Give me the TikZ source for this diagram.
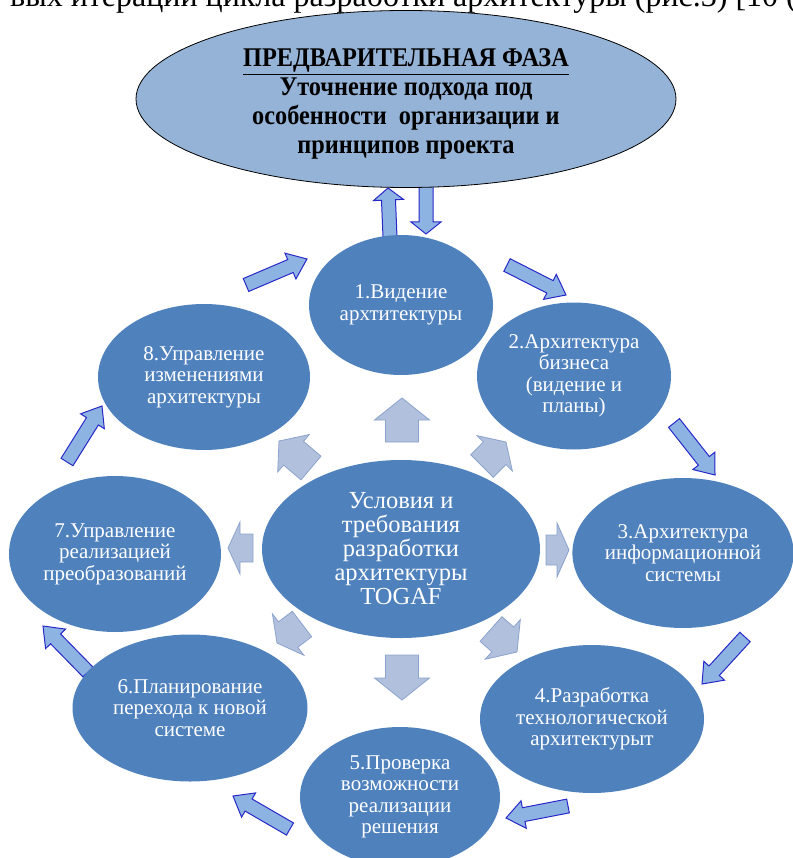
\documentclass[tikz,border=0pt]{standalone}
\usepackage{fontspec}
\setmainfont{Liberation Serif}
\newfontfamily\headfont[FakeStretch=0.9]{Liberation Serif}
\usepackage{tikz}
\usetikzlibrary{shapes.geometric}
\usetikzlibrary{calc}
\pgfdeclarelayer{background}
\pgfsetlayers{background,main}

\definecolor{phasefill}{RGB}{149,179,215}
\definecolor{stepfill}{RGB}{79,129,189}
\definecolor{cyclefill}{RGB}{141,179,226}
\definecolor{cycleline}{RGB}{40,40,200}
\definecolor{innerfill}{RGB}{177,192,220}
\definecolor{innerline}{RGB}{140,163,205}

% block arrow: [style]{tail}{tip}{half shaft}{half head}{head length}
\newcommand{\blockarrow}[6][]{%
	\coordinate (ba-t) at #2;
	\coordinate (ba-p) at #3;
	\coordinate (ba-b) at ($(ba-p)!#6!(ba-t)$);
	\path[#1] ($(ba-t)!#4!90:(ba-p)$) -- ($(ba-b)!#4!-90:(ba-t)$) -- ($(ba-b)!#5!-90:(ba-t)$)
		-- (ba-p) -- ($(ba-b)!#5!90:(ba-t)$) -- ($(ba-b)!#4!90:(ba-t)$) -- ($(ba-t)!#4!-90:(ba-p)$) -- cycle;}

\begin{document}
\begin{tikzpicture}[x=1pt, y=-1pt,
				phasenode/.style={ellipse, draw=black, line width=0.8pt, fill=phasefill, inner sep=0pt, align=center,
					font=\headfont\bfseries\fontsize{27}{29}\selectfont},
				stepnode/.style={ellipse, fill=stepfill, text=white, inner sep=0pt, align=center,
					font=\fontsize{21}{21.5}\selectfont},
				corenode/.style={stepnode, font=\fontsize{24.5}{24}\selectfont},
				outerarrow/.style={fill=cyclefill, draw=cycleline, line width=1pt},
				innerarrow/.style={fill=innerfill, draw=innerline, line width=0.8pt},
				]
				\useasboundingbox (0,0) rectangle (792,858);
				\begin{scope}
				\clip (0,0) rectangle (792,858);
				\node[anchor=base west, font=\fontsize{32}{34}\selectfont, inner sep=0pt] (cut) at (10,7)
					{вых итерации цикла разработки архитектуры (рис.3) [10 (};
				\end{scope}

				%Nodes
				\node[phasenode, minimum width=540, minimum height=177] (phase) at (406,99) {};
				\node[phasenode, draw=none, fill=none] (phasetext) at (406,104)
					{\underline{ПРЕДВАРИТЕЛЬНАЯ ФАЗА}\\Уточнение подхода под\\особенности~ организации и\\принципов проекта};
				\node[stepnode, minimum width=184, minimum height=140] (s1) at (401,305) {1.Видение\\архтитектуры};
				\node[stepnode, minimum width=194, minimum height=147] (s2) at (574,376) {2.Архитектура\\бизнеса\\(видение и\\планы)};
				\node[stepnode, minimum width=214, minimum height=150] (s3) at (683,553) {3.Архитектура\\информационной\\системы};
				\node[stepnode, minimum width=224, minimum height=148] (s4) at (592,719) {4.Разработка\\технологической\\архитектурыт};
				\node[stepnode, minimum width=200, minimum height=140] (s5) at (400,797) {5.Проверка\\возможности\\реализации\\решения};
				\node[stepnode, minimum width=235, minimum height=147] (s6) at (190,708) {6.Планирование\\перехода к новой\\системе};
				\node[stepnode, minimum width=212, minimum height=156] (s7) at (115,554) {7.Управление\\реализацией\\преобразований};
				\node[stepnode, minimum width=212, minimum height=146] (s8) at (204,377) {8.Управление\\изменениями\\архитектуры};
				\node[corenode, minimum width=278, minimum height=178] (core) at (401,549) {Условия и\\требования\\разработки\\архитектуры\\TOGAF};

				\begin{pgfonlayer}{background}
				%Arrows
				\blockarrow[outerarrow]{(390,237)}{(388,188)}{7pt}{15pt}{12pt}
				\blockarrow[outerarrow]{(426,186)}{(426,234)}{7pt}{15pt}{12pt}
				\foreach \xa/\ya/\xb/\yb in {246/285/307/259, 507/265/566/295, 674/423/715/475, 745/637/702/684,
					568/806/506/818, 290/829/233/796, 88/672/43/626, 67/462/102/406}
					{\blockarrow[outerarrow]{(\xa,\ya)}{(\xb,\yb)}{7pt}{14pt}{18pt}}
				\foreach \xa/\ya/\xb/\yb/\sw/\hw/\hl in {402/442/402/398/16.5/27.5/22, 402/655/402/700/16.5/27.5/22,
					546/550/569/550/15/27/12, 253/548/228/548/14/26/12, 311/468/279/441/15.5/24.5/19,
					482/466/506/442/16/25/16, 302/624/277/643/16/26/14, 491/629/517/652/16.5/26.5/19}
					{\blockarrow[innerarrow]{(\xa,\ya)}{(\xb,\yb)}{\sw pt}{\hw pt}{\hl pt}}
				\end{pgfonlayer}
			\end{tikzpicture}
\end{document}
